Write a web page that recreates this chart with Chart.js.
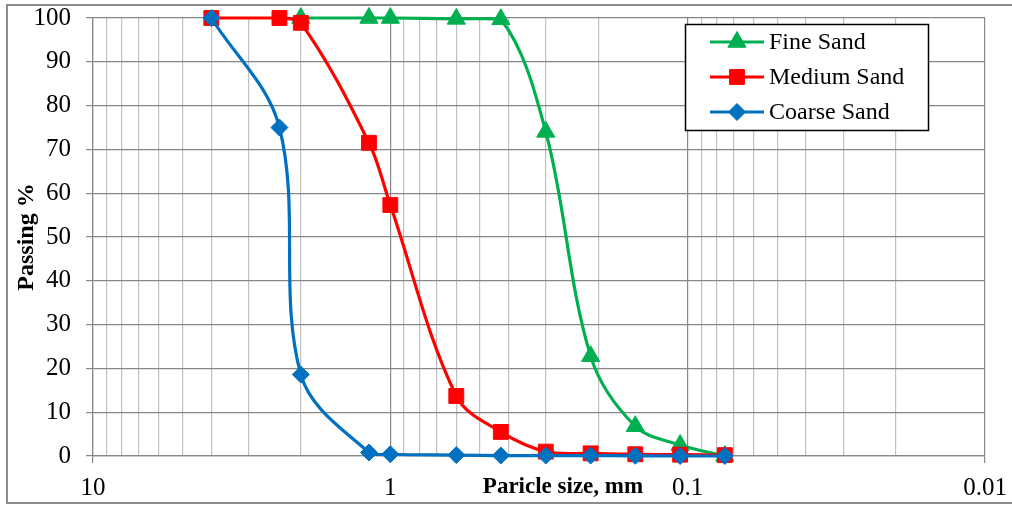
<!DOCTYPE html>
<html>
<head>
<meta charset="utf-8">
<script src="https://cdn.jsdelivr.net/npm/chart.js@4.4.1/dist/chart.umd.min.js"></script>
<style>
  html, body { margin: 0; padding: 0; background: #fff; overflow: hidden; }
  #wrap { position: relative; width: 1012px; height: 506px; }
  #frame { position: absolute; left: 6px; top: 4px; width: 1030px; height: 500px; border: 2px solid #8c8c8c; box-sizing: border-box; pointer-events: none; }
</style>
</head>
<body>
<div id="wrap">
  <canvas id="chart" width="1012" height="506"></canvas>
  <div id="frame"></div>
</div>
<script>
// sieve sizes in mm and % passing for each sand
const sieveSizes = [4, 2.36, 2, 1.18, 1, 0.6, 0.425, 0.3, 0.212, 0.15, 0.106, 0.075];
const fineSand   = [null, null, 100, 100, 100, 99.8, 99.7, 74, 22.8, 6.8, 2.5, 0];
const mediumSand = [100, 100, 98.9, 71.5, 57.3, 13.7, 5.5, 1.0, 0.6, 0.4, 0.3, 0.2];
const coarseSand = [100, 75, 18.6, 0.8, 0.4, 0.2, 0.1, 0.1, 0.1, 0.05, 0, 0];

const seriesNames = ['Fine Sand', 'Medium Sand', 'Coarse Sand'];
const xMajorTicks = [10, 1, 0.1, 0.01];
const xTickLabels = ['10', '1', '0.1', '0.01'];
const xTitle = 'Paricle size, mm';
const yTitle = 'Passing %';

const SERIF = "'Liberation Serif', 'Times New Roman', serif";
const GRID_DARK = '#878787';
const GRID_LIGHT = '#c0c0c0';

const toPoints = (values) => sieveSizes
  .map((s, i) => ({ x: s, y: values[i] }))
  .filter(p => p.y !== null);

const isMajor = (v) => {
  const l = Math.log10(v);
  return Math.abs(l - Math.round(l)) < 1e-6;
};

const datasets = [
  { label: seriesNames[0], data: toPoints(fineSand), borderColor: '#00B050', backgroundColor: '#00B050',
    pointStyle: 'triangle', pointRadius: 10.5, order: 3 },
  { label: seriesNames[1], data: toPoints(mediumSand), borderColor: '#FF0000', backgroundColor: '#FF0000',
    pointStyle: 'rect', pointRadius: 10.5, order: 2 },
  { label: seriesNames[2], data: toPoints(coarseSand), borderColor: '#0070C0', backgroundColor: '#0070C0',
    pointStyle: 'rectRot', pointRadius: 8.5, order: 1 }
].map(ds => Object.assign(ds, {
  borderWidth: 3.2, pointBorderWidth: 1, pointBorderColor: ds.borderColor,
  tension: 0.35, clip: false, pointHoverRadius: ds.pointRadius
}));

// boxed legend in the top right + x title sitting in the tick row
const extras = {
  id: 'extras',
  afterDraw(chart) {
    const ctx = chart.ctx;
    ctx.save();

    ctx.fillStyle = '#000';
    ctx.font = 'bold 23px ' + SERIF;
    ctx.textAlign = 'center';
    ctx.textBaseline = 'middle';
    ctx.fillText(xTitle, 563, 487);

    const box = { x: 685, y: 24, w: 243, h: 106 };
    ctx.fillStyle = '#fff';
    ctx.fillRect(box.x, box.y, box.w, box.h);
    ctx.strokeStyle = '#000';
    ctx.lineWidth = 1.5;
    ctx.strokeRect(box.x + 0.5, box.y + 0.5, box.w, box.h);

    ctx.font = '24px ' + SERIF;
    ctx.textAlign = 'left';
    chart.data.datasets.forEach((ds, row) => {
      const y = 42 + row * 35;
      ctx.strokeStyle = ds.borderColor;
      ctx.lineWidth = 3;
      ctx.beginPath();
      ctx.moveTo(710, y);
      ctx.lineTo(764, y);
      ctx.stroke();
      ctx.fillStyle = ds.backgroundColor;
      ctx.strokeStyle = ds.borderColor;
      ctx.lineWidth = 1;
      Chart.helpers.drawPoint(ctx, { pointStyle: ds.pointStyle, radius: ds.pointRadius, borderWidth: 1, rotation: 0 }, 737, y);
      ctx.fillStyle = '#000';
      ctx.fillText(ds.label, 769, y + 1);
    });
    ctx.restore();
  }
};

new Chart(document.getElementById('chart'), {
  type: 'line',
  data: { datasets },
  plugins: [extras],
  options: {
    responsive: false,
    animation: false,
    layout: { padding: { left: 0, top: 18, right: 27, bottom: 0 } },
    plugins: { legend: { display: false }, tooltip: { enabled: false } },
    scales: {
      x: {
        type: 'logarithmic',
        reverse: true,
        min: 0.01,
        max: 10,
        afterFit: (scale) => {
          scale.height = 50;
          scale.paddingLeft = 0;
          scale.paddingRight = 0;
        },
        afterBuildTicks: (scale) => {
          const ticks = [];
          for (let k = xMajorTicks.length - 1; k > 0; k--) {
            const lo = xMajorTicks[k];
            for (let m = 1; m < 10; m++) ticks.push({ value: lo * m });
          }
          ticks.push({ value: xMajorTicks[0] });
          scale.ticks = ticks;
        },
        ticks: {
          autoSkip: false,
          maxRotation: 0,
          padding: 10,
          color: '#000',
          font: { family: SERIF, size: 25 },
          callback: (value) => {
            const i = xMajorTicks.findIndex(t => Math.abs(t - value) < 1e-9);
            return i >= 0 ? xTickLabels[i] : '';
          }
        },
        grid: {
          color: (c) => isMajor(c.tick.value) ? GRID_DARK : GRID_LIGHT,
          lineWidth: 1.2,
          tickLength: 7,
          tickColor: (c) => (Math.abs(c.tick.value - 10) < 1e-9 || Math.abs(c.tick.value - 0.01) < 1e-9) ? GRID_DARK : 'rgba(0,0,0,0)'
        },
        border: { color: GRID_DARK, width: 1.2 }
      },
      y: {
        min: 0,
        max: 100,
        afterFit: (scale) => {
          scale.width = 93;
          scale.paddingTop = 0;
          scale.paddingBottom = 0;
        },
        ticks: {
          stepSize: 10,
          padding: 15,
          color: '#000',
          font: { family: SERIF, size: 25 }
        },
        grid: { color: GRID_DARK, lineWidth: 1.2, tickLength: 7, tickColor: GRID_DARK },
        border: { color: GRID_DARK, width: 1.2 },
        title: {
          display: true,
          text: yTitle,
          color: '#000',
          font: { family: SERIF, size: 24, weight: 'bold' },
          padding: { top: 12, bottom: 0 }
        }
      }
    }
  }
});
</script>
</body>
</html>
